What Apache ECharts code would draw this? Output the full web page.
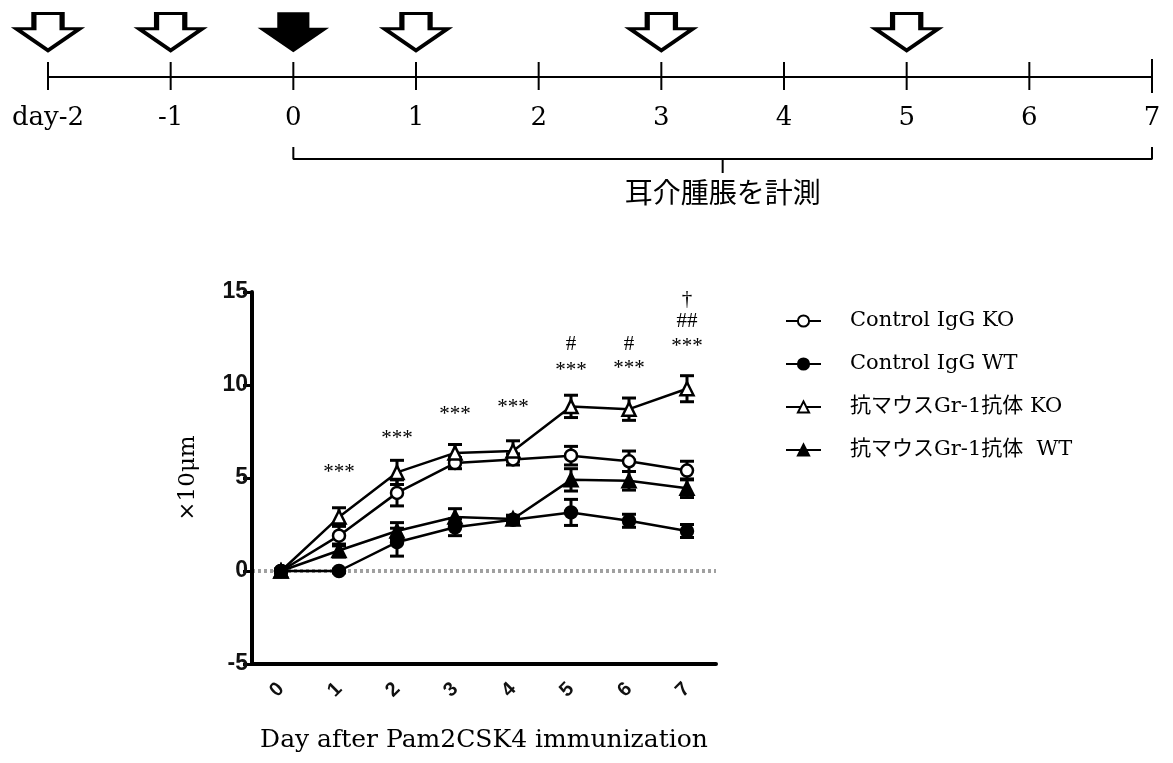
<!DOCTYPE html>
<html>
<head>
<meta charset="utf-8">
<script src="https://cdn.jsdelivr.net/npm/echarts@6/dist/echarts.min.js"></script>
<style>
html,body{margin:0;padding:0;background:#fff;}
#chart{width:1173px;height:763px;}
</style>
</head>
<body>
<div id="chart"></div>
<script>
// ---------- Timeline data ----------
const timelineDays = [-2, -1, 0, 1, 2, 3, 4, 5, 6, 7];
const timelineLabels = ['day-2', '-1', '0', '1', '2', '3', '4', '5', '6', '7'];
const arrowDays = [-2, -1, 0, 1, 3, 5];
const arrowFilled = [false, false, true, false, false, false];
const measureStart = 0;
const measureEnd = 7;
const measureLabel = '耳介腫脹を計測';

// ---------- Line chart data ----------
const days = ['0', '1', '2', '3', '4', '5', '6', '7'];
const seriesNames = ['Control IgG KO', 'Control IgG WT', '抗マウスGr-1抗体 KO', '抗マウスGr-1抗体  WT'];
const ctrlKO     = [0, 1.9, 4.2, 5.8, 6.0, 6.2, 5.9, 5.4];
const ctrlKOErr  = [0.1, 0.55, 0.7, 0.3, 0.3, 0.5, 0.55, 0.5];
const ctrlWT     = [0, 0, 1.55, 2.35, 2.75, 3.15, 2.7, 2.15];
const ctrlWTErr  = [0, 0.1, 0.75, 0.45, 0.2, 0.7, 0.35, 0.35];
const gr1KO      = [0, 2.9, 5.3, 6.35, 6.45, 8.85, 8.7, 9.8];
const gr1KOErr   = [0.1, 0.5, 0.65, 0.45, 0.55, 0.6, 0.6, 0.7];
const gr1WT      = [0, 1.1, 2.15, 2.9, 2.8, 4.9, 4.85, 4.45];
const gr1WTErr   = [0, 0.35, 0.45, 0.45, 0.2, 0.6, 0.5, 0.5];

// significance annotations
const annotDay  = [1, 2, 3, 4, 5, 5, 6, 6, 7, 7, 7];
const annotText = ['***', '***', '***', '***', '***', '#', '***', '#', '***', '##', '†'];
const annotY    = [5.3, 7.15, 8.4, 8.8, 10.8, 12.2, 10.9, 12.2, 12.05, 13.4, 14.6];

const yTicks = [-5, 0, 5, 10, 15];

// ---------- build ----------
const SERIF = "'DejaVu Serif', 'Noto Sans CJK JP', serif";
const SERIF2 = "'Liberation Serif', 'DejaVu Serif', serif";
const SANS = "'Liberation Sans Narrow', 'Liberation Sans', Arial, sans-serif";

const values = [ctrlKO, ctrlWT, gr1KO, gr1WT];
const errs = [ctrlKOErr, ctrlWTErr, gr1KOErr, gr1WTErr];
const symbols = ['circle', 'circle', 'triangle', 'triangle'];
const filled = [false, true, false, true];

function renderErr(params, api) {
  const x = api.value(0), lo = api.value(1), hi = api.value(2);
  const p1 = api.coord([x, lo]), p2 = api.coord([x, hi]);
  const w = 7;
  const st = { stroke: '#000', lineWidth: 3 };
  return {
    type: 'group',
    children: [
      { type: 'line', shape: { x1: p1[0], y1: p1[1], x2: p2[0], y2: p2[1] }, style: st },
      { type: 'line', shape: { x1: p1[0] - w, y1: p1[1], x2: p1[0] + w, y2: p1[1] }, style: st },
      { type: 'line', shape: { x1: p2[0] - w, y1: p2[1], x2: p2[0] + w, y2: p2[1] }, style: st }
    ]
  };
}

const series = [];
values.forEach((vals, k) => {
  series.push({
    type: 'custom',
    xAxisIndex: 0, yAxisIndex: 0,
    z: 1,
    renderItem: renderErr,
    encode: { x: 0, y: [1, 2] },
    data: vals.map((v, i) => [i, v - errs[k][i], v + errs[k][i]]),
    silent: true
  });
});
values.forEach((vals, k) => {
  const s = {
    type: 'line',
    name: seriesNames[k],
    xAxisIndex: 0, yAxisIndex: 0,
    z: 3,
    data: vals,
    symbol: symbols[k],
    symbolSize: symbols[k] === 'triangle' ? 13 : 12,
    lineStyle: { color: '#000', width: 2.5 },
    itemStyle: { color: filled[k] ? '#000' : '#fff', borderColor: '#000', borderWidth: 2.5, opacity: 1 },
    emphasis: { disabled: true }
  };
  if (k === 0) {
    s.markLine = {
      silent: true,
      symbol: 'none',
      label: { show: false },
      lineStyle: { color: '#a0a0a0', type: [3, 3], width: 4 },
      data: [{ yAxis: 0 }],
      z: 0
    };
  }
  series.push(s);
});

// annotations
series.push({
  type: 'scatter',
  xAxisIndex: 0, yAxisIndex: 0,
  symbolSize: 1,
  clip: false,
  itemStyle: { color: 'rgba(0,0,0,0)', opacity: 1 },
  data: annotDay.map((d, i) => [d, annotY[i], annotText[i]]),
  label: {
    show: true, position: 'inside',
    formatter: p => p.value[2],
    fontFamily: SERIF2, fontSize: 21, color: '#000'
  },
  silent: true
});

// timeline ticks
series.push({
  type: 'scatter',
  xAxisIndex: 1, yAxisIndex: 1,
  symbol: 'rect',
  symbolSize: v => v[0] === measureEnd ? [2, 34] : [2, 28],
  symbolOffset: [0, -1],
  clip: false,
  itemStyle: { color: '#000', opacity: 1 },
  data: timelineDays.map(d => [d, 0]),
  silent: true
});

// timeline arrows
series.push({
  type: 'scatter',
  xAxisIndex: 1, yAxisIndex: 1,
  symbol: 'path://M18.5,0L48.5,0L48.5,17L67,17L33.5,41L0,17L18.5,17Z',
  symbolSize: [63, 37],
  symbolOffset: [0, -45],
  clip: false,
  data: arrowDays.map((d, i) => ({
    value: [d, 0],
    itemStyle: arrowFilled[i]
      ? { color: '#000', borderColor: '#000', borderWidth: 3, opacity: 1 }
      : { color: '#fff', borderColor: '#000', borderWidth: 4, opacity: 1 }
  })),
  silent: true
});

// bracket
const mid = (measureStart + measureEnd) / 2;
series.push({
  type: 'line',
  xAxisIndex: 1, yAxisIndex: 1,
  symbol: 'none',
  clip: false,
  lineStyle: { color: '#000', width: 2 },
  data: [[measureStart, -7], [measureStart, -8.2], [mid, -8.2], [mid, -9.6], [mid, -8.2], [measureEnd, -8.2], [measureEnd, -7]],
  silent: true
});
series.push({
  type: 'scatter',
  xAxisIndex: 1, yAxisIndex: 1,
  symbolSize: 1,
  clip: false,
  itemStyle: { color: 'rgba(0,0,0,0)', opacity: 1 },
  data: [[mid, -9.6]],
  label: {
    show: true, position: 'bottom', distance: 5,
    formatter: measureLabel,
    fontFamily: "'Noto Sans CJK JP', sans-serif", fontSize: 28, color: '#000'
  },
  silent: true
});

const option = {
  animation: false,
  backgroundColor: '#fff',
  grid: [
    { left: 252, width: 464, top: 292, height: 372 },
    { left: 48, width: 1104, top: 7, height: 70 }
  ],
  legend: {
    data: seriesNames,
    orient: 'vertical',
    left: 785, top: 308,
    padding: 0,
    itemWidth: 35, itemHeight: 14,
    itemGap: 17,
    selectedMode: false,
    textStyle: { fontFamily: SERIF, fontSize: 21, color: '#000', lineHeight: 26, padding: [0, 0, 0, 24] }
  },
  xAxis: [
    {
      type: 'category', gridIndex: 0, data: days, boundaryGap: true,
      name: 'Day after Pam2CSK4 immunization',
      nameLocation: 'middle', nameGap: 64,
      nameTextStyle: { fontFamily: SERIF, fontSize: 25, color: '#000' },
      axisLine: { onZero: false, lineStyle: { color: '#000', width: 4 } },
      axisTick: { alignWithLabel: true, length: 15, lineStyle: { color: '#000', width: 3 } },
      axisLabel: { rotate: 45, margin: 22, fontFamily: SANS, fontWeight: 'bold', fontSize: 20, color: '#111' },
      splitLine: { show: false }
    },
    {
      type: 'value', gridIndex: 1, min: -2, max: 7, interval: 1,
      position: 'bottom',
      axisLine: { onZero: false, lineStyle: { color: '#000', width: 2 } },
      axisTick: { show: false },
      splitLine: { show: false },
      axisLabel: {
        margin: 28, fontFamily: SERIF, fontSize: 26, color: '#000',
        formatter: v => timelineLabels[timelineDays.indexOf(v)]
      }
    }
  ],
  yAxis: [
    {
      type: 'value', gridIndex: 0, min: -5, max: 15, interval: 5,
      name: '×10μm', nameLocation: 'middle', nameGap: 52,
      nameTextStyle: { fontFamily: SERIF, fontSize: 23, color: '#000' },
      axisLine: { show: true, lineStyle: { color: '#000', width: 4 } },
      axisTick: { show: true, length: 9, lineStyle: { color: '#000', width: 3 } },
      axisLabel: { margin: 4, fontFamily: SANS, fontWeight: 'bold', fontSize: 23, color: '#111',
        formatter: v => String(yTicks[yTicks.indexOf(v)]) },
      splitLine: { show: false }
    },
    {
      type: 'value', gridIndex: 1, min: 0, max: 7, show: false
    }
  ],
  series: series
};

const chart = echarts.init(document.getElementById('chart'), null, { renderer: 'canvas' });
chart.setOption(option);
</script>
</body>
</html>
